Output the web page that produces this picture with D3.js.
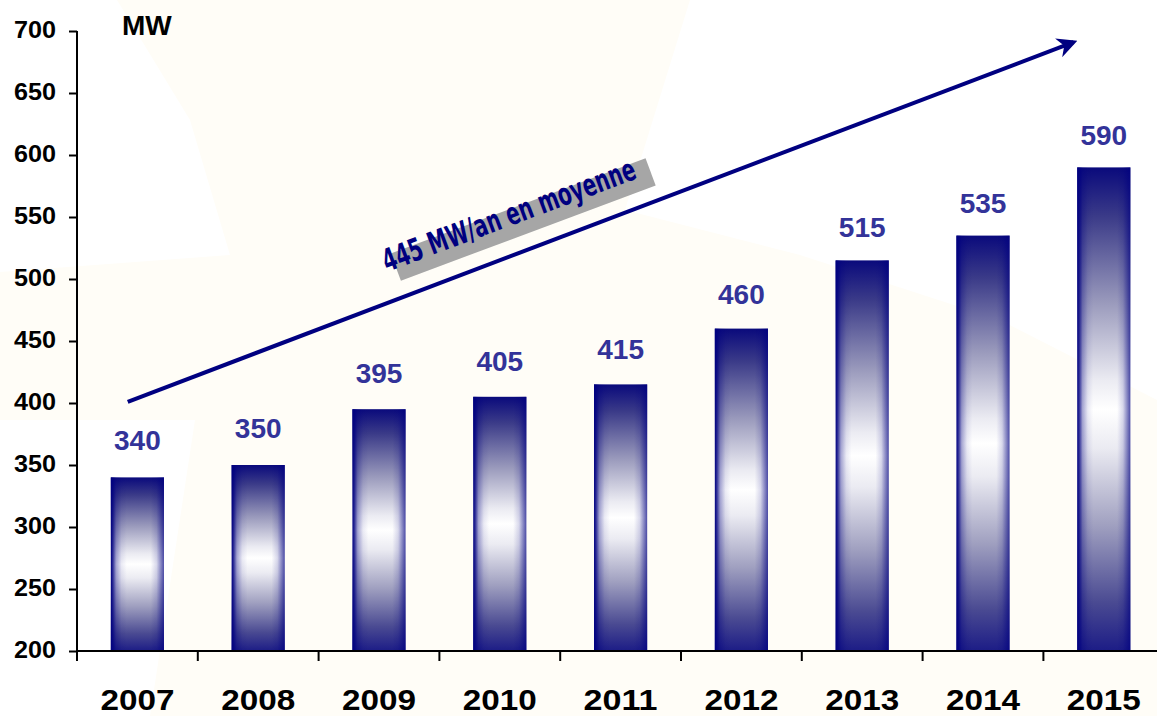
<!DOCTYPE html>
<html>
<head>
<meta charset="utf-8">
<script src="https://cdn.jsdelivr.net/npm/d3@7"></script>
<style>
  body { margin: 0; background: #fff; }
  svg { display: block; }
</style>
</head>
<body>
<script>
// donnees
const years = ['2007', '2008', '2009', '2010', '2011', '2012', '2013', '2014', '2015']
const values = [340, 350, 395, 405, 415, 460, 515, 535, 590]
const yTicks = [200, 250, 300, 350, 400, 450, 500, 550, 600, 650, 700]
const unitLabel = 'MW'
const trendLabel = '445 MW/an en moyenne'
// fleche de tendance : [index annee, valeur]
const trendStart = [-0.08, 401]
const trendEnd = [7.75, 691]

const WIDTH = 1157
const HEIGHT = 716
const FONT = 'Liberation Sans, Arial, sans-serif'

const svg = d3.select('body').append('svg')
  .attr('width', WIDTH)
  .attr('height', HEIGHT)

/*
* Fond (filigrane creme tres pale)
*/
svg.append('path')
  .attr('d', 'M117,0 L690,0 L625,210 L800,255 L1000,320 L1157,400 L1157,716 L150,716 L195,420 L0,420 L0,272 L230,255 L190,120 Z')
  .attr('fill', '#fffdf7')

/*
* Echelles
*/
const xScale = d3.scaleBand()
  .domain(years)
  .range([77, 77 + 9 * 120.8])
  .padding(0)

const yScale = d3.scaleLinear()
  .domain([200, 700])
  .range([651, 31])

const barW = xScale.bandwidth() * 0.44
const xCenter = i => xScale(years[0]) + xScale.step() * (i + 0.5)

/*
* Degrades des barres
*/
const defs = svg.append('defs')
const vGrad = defs.append('linearGradient')
  .attr('id', 'vgrad')
  .attr('x1', 0).attr('y1', 0).attr('x2', 0).attr('y2', 1)
;[[0, '#0a0a7c'], [0.1, '#3a3a88'], [0.28, '#9a9abc'], [0.44, '#ebebf2'], [0.5, '#ffffff'],
  [0.58, '#ebebf2'], [0.74, '#a0a0c0'], [0.9, '#4a4a92'], [1, '#1c1c86']]
  .forEach(([o, c]) => vGrad.append('stop').attr('offset', o).attr('stop-color', c))

const hGrad = defs.append('linearGradient')
  .attr('id', 'hgrad')
  .attr('x1', 0).attr('y1', 0).attr('x2', 1).attr('y2', 0)
;[[0, 1], [0.04, 0.8], [0.1, 0.35], [0.2, 0.08], [0.3, 0], [0.75, 0], [0.86, 0.15], [0.95, 0.5], [1, 0.7]]
  .forEach(([o, a]) => hGrad.append('stop').attr('offset', o)
    .attr('stop-color', '#000080').attr('stop-opacity', a))

const marker = defs.append('marker')
  .attr('id', 'arrowhead')
  .attr('viewBox', '0 0 10 10')
  .attr('refX', 8).attr('refY', 5)
  .attr('markerWidth', 5).attr('markerHeight', 5)
  .attr('orient', 'auto')
marker.append('path')
  .attr('d', 'M0,0 L10,5 L0,10 L3,5 Z')
  .attr('fill', '#000080')

/*
* Barres
*/
const bars = svg.append('g')
;['url(#vgrad)', 'url(#hgrad)'].forEach((fill, k) => {
  bars.selectAll('rect.layer' + k)
    .data(values)
    .enter()
    .append('rect')
    .attr('class', 'layer' + k)
    .attr('x', (d, i) => xCenter(i) - barW / 2)
    .attr('y', d => yScale(d))
    .attr('width', barW)
    .attr('height', d => yScale(200) - yScale(d))
    .attr('fill', fill)
})

// valeurs au-dessus des barres
svg.append('g').selectAll('text')
  .data(values)
  .enter()
  .append('text')
  .attr('x', (d, i) => xCenter(i))
  .attr('y', d => yScale(d) - 27 + (d - 340) * 0.02)
  .attr('text-anchor', 'middle')
  .attr('font-family', FONT)
  .attr('font-weight', 'bold')
  .attr('font-size', 28)
  .attr('fill', '#333399')
  .text(d => d)

/*
* Axes
*/
const axisY = d3.axisLeft(yScale)
  .tickValues(yTicks)
  .tickSize(8)
  .tickPadding(13)
  .tickFormat(d3.format('d'))

const leftAxis = svg.append('g')
  .attr('transform', 'translate(77,0)')
  .call(axisY)
leftAxis.select('.domain').attr('stroke', '#000').attr('stroke-width', 2).attr('d', 'M0,31V651')
leftAxis.selectAll('.tick line').attr('stroke', '#000').attr('stroke-width', 2)
leftAxis.selectAll('.tick text')
  .attr('font-family', FONT)
  .attr('font-weight', 'bold')
  .attr('font-size', 23)
  .attr('dy', '0.3em')
  .attr('textLength', 42)
  .attr('lengthAdjust', 'spacingAndGlyphs')
  .attr('fill', '#000')

const axisX = d3.axisBottom(xScale)
  .tickSize(0)
  .tickPadding(38)

const bottomAxis = svg.append('g')
  .attr('transform', 'translate(0,651)')
  .call(axisX)
bottomAxis.select('.domain').attr('stroke', '#000').attr('stroke-width', 2).attr('d', 'M77,0H1157')
bottomAxis.selectAll('.tick text')
  .attr('font-family', FONT)
  .attr('font-weight', 'bold')
  .attr('font-size', 30)
  .attr('textLength', 74)
  .attr('lengthAdjust', 'spacingAndGlyphs')
  .attr('fill', '#000')

// graduations entre les categories
bottomAxis.append('g').selectAll('line')
  .data(d3.range(years.length + 1))
  .enter()
  .append('line')
  .attr('x1', i => xScale(years[0]) + xScale.step() * i)
  .attr('x2', i => xScale(years[0]) + xScale.step() * i)
  .attr('y1', 0)
  .attr('y2', 10)
  .attr('stroke', '#000')
  .attr('stroke-width', 2)

svg.append('text')
  .attr('x', 122)
  .attr('y', 35)
  .attr('font-family', FONT)
  .attr('font-weight', 'bold')
  .attr('font-size', 28)
  .attr('fill', '#000')
  .text(unitLabel)

/*
* Fleche de tendance
*/
const ax1 = xCenter(trendStart[0]), ay1 = yScale(trendStart[1])
const ax2 = xCenter(trendEnd[0]), ay2 = yScale(trendEnd[1])
svg.append('line')
  .attr('x1', ax1).attr('y1', ay1)
  .attr('x2', ax2).attr('y2', ay2)
  .attr('stroke', '#000080')
  .attr('stroke-width', 4)
  .attr('marker-end', 'url(#arrowhead)')

const label = svg.append('g')
  .attr('transform', 'translate(387,272) rotate(-20.5)')
label.append('rect')
  .attr('x', 10).attr('y', -16)
  .attr('width', 272).attr('height', 29)
  .attr('fill', '#a6a6a6')
label.append('text')
  .attr('x', 0).attr('y', 0)
  .attr('textLength', 268)
  .attr('lengthAdjust', 'spacingAndGlyphs')
  .attr('font-family', 'DejaVu Sans Condensed, DejaVu Sans, sans-serif')
  .attr('font-weight', 'bold')
  .attr('font-size', 31)
  .attr('fill', '#000080')
  .text(trendLabel)
</script>
</body>
</html>
